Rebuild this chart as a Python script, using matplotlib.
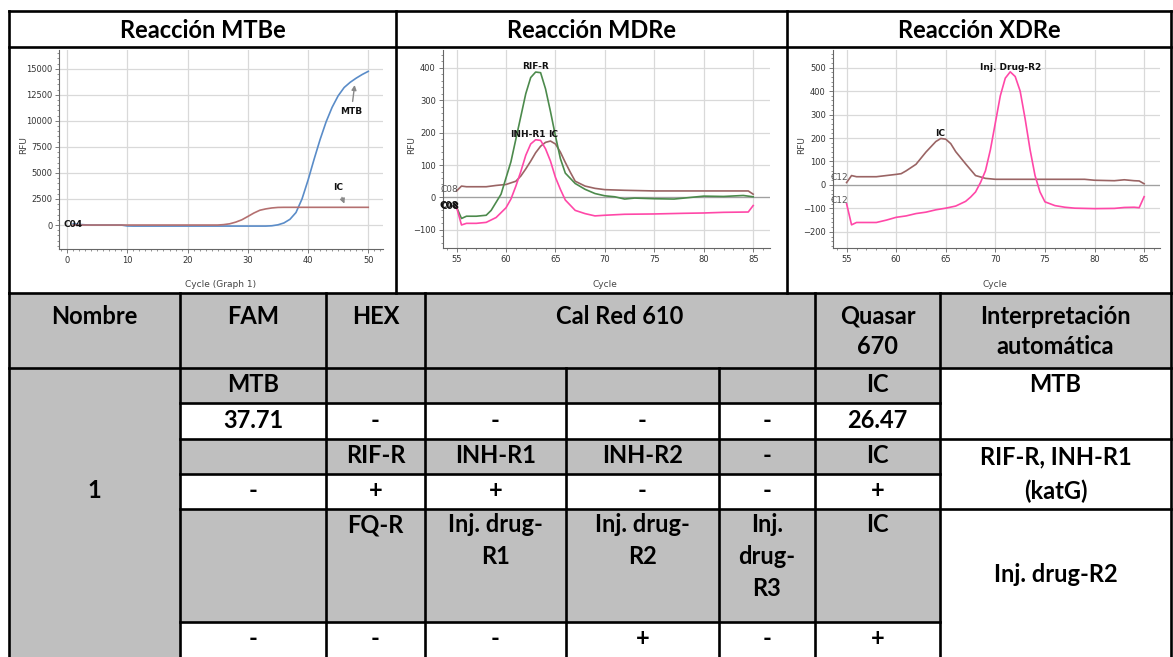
import numpy as np
import matplotlib
matplotlib.use("Agg")
import matplotlib.pyplot as plt
from matplotlib.ticker import MultipleLocator
from matplotlib.patches import Rectangle

plt.rcParams['font.family'] = ['Lato', 'DejaVu Sans']

# ---------------- data ----------------
titles = ['Reacción MTBe', 'Reacción MDRe', 'Reacción XDRe']
header = ['Nombre', 'FAM', 'HEX', 'Cal Red 610', 'Quasar\n670', 'Interpretación\nautomática']
sample_name = '1'
row_mtb_targets = ['MTB', '', '', '', '', 'IC']
row_mtb_ct = ['37.71', '-', '-', '-', '-', '26.47']
row_mdr_targets = ['', 'RIF-R', 'INH-R1', 'INH-R2', '-', 'IC']
row_mdr_result = ['-', '+', '+', '-', '-', '+']
row_xdr_targets = ['', 'FQ-R', 'Inj. drug-\nR1', 'Inj. drug-\nR2', 'Inj.\ndrug-\nR3', 'IC']
row_xdr_result = ['-', '-', '-', '+', '-', '+']
interpretations = ['MTB', 'RIF-R, INH-R1\n(katG)', 'Inj. drug-R2']

# amplification (MTBe)
cycles = np.arange(1, 51)
mtb_rfu = [120, 60, 20, 0, 0, 0, 0, 0, 0, -90,
           -100, -100, -100, -100, -100, -100, -100, -100, -100, -100,
           -100, -100, -100, -100, -100, -100, -100, -100, -100, -100,
           -100, -100, -100, -70, 20, 200, 550, 1200, 2500, 4300,
           6300, 8200, 9900, 11300, 12400, 13200, 13700, 14100, 14450, 14750]
ic_mtb_rfu = [0] * 25 + [40, 120, 280, 500, 820, 1150, 1420, 1550, 1640, 1690] + [1700] * 15

# melt (MDRe)
rif_t = [55, 55.5, 56, 57, 58, 58.5, 59, 59.5, 60, 60.5, 61, 61.5, 62, 62.5, 63, 63.5,
         64, 64.5, 65, 65.5, 66, 67, 68, 69, 70, 71, 72, 73, 75, 77, 80, 82, 84, 85]
rif_rfu = [-30, -65, -58, -58, -55, -40, -15, 10, 60, 110, 180, 250, 320, 370, 387, 385,
           335, 265, 190, 120, 75, 43, 25, 12, 5, 2, -5, -2, -4, -5, 4, 3, 6, 2]
inh_t = [55, 55.5, 56, 57, 58, 59, 60, 60.5, 61, 61.5, 62, 62.5, 63, 63.5, 64, 64.5,
         65, 65.5, 66, 67, 68, 69, 70, 72, 75, 78, 80, 82, 84.5, 85]
inh_rfu = [-30, -85, -80, -80, -77, -62, -32, -5, 35, 80, 130, 165, 178, 176, 150, 112,
           62, 25, -8, -40, -50, -57, -55, -52, -51, -49, -48, -46, -45, -25]
icm_t = [55, 55.5, 56, 58, 59, 60, 61, 61.5, 62, 62.5, 63, 63.5, 64, 64.5, 65, 65.5,
         66, 66.5, 67, 68, 69, 70, 72, 75, 80, 84.5, 85]
icm_rfu = [20, 35, 33, 33, 37, 40, 50, 66, 88, 112, 138, 158, 170, 174, 165, 140,
           108, 78, 50, 35, 28, 24, 22, 20, 20, 20, 10]

# melt (XDRe)
inj_t = [55, 55.5, 56, 58, 59, 60, 61, 62, 63, 64, 65, 66, 67, 67.5, 68, 68.5, 69, 69.5,
         70, 70.5, 71, 71.5, 72, 72.5, 73, 73.5, 74, 74.5, 75, 76, 77, 78, 80, 82, 83, 84, 84.5, 85]
inj_rfu = [-80, -170, -160, -160, -150, -138, -132, -122, -116, -106, -99, -90, -70, -52, -30, 10, 60, 150,
           265, 380, 455, 482, 462, 400, 282, 150, 40, -30, -72, -88, -95, -99, -101, -100, -96, -95, -97, -50]
icx_t = [55, 55.5, 56, 58, 59, 60, 60.5, 61, 62, 63, 64, 64.5, 65, 65.5, 66, 67, 68, 69, 70,
         75, 79, 80, 82, 83, 84, 84.5, 85]
icx_rfu = [10, 40, 35, 35, 40, 45, 48, 60, 88, 140, 185, 198, 195, 176, 142, 90, 40, 28, 24,
           24, 24, 20, 18, 22, 18, 17, 5]

# ---------------- layout (pixels) ----------------
W, H = 1173, 657
fig = plt.figure(figsize=(W / 100, H / 100), dpi=100)
tab = fig.add_axes([0, 0, 1, 1], zorder=0)
tab.set_xlim(0, W)
tab.set_ylim(H, 0)
tab.axis('off')

GREY = '#bfbfbf'
LW = 1.9
L, R = 9, 1171
top_v = [L, 396, 787, R]
cols = [L, 180, 326, 425, 566, 719, 815, 940, R]
TFS = 17


def txt(x, y, s, **kw):
    tab.text(x, y, s, ha='center', va='center', fontsize=TFS, fontweight='bold', color='black', **kw)


def lines_at(x, y0, s, step):
    for i, part in enumerate(s.split('\n')):
        txt(x, y0 + i * step, part)


# grey fills
tab.add_patch(Rectangle((L, 293), R - L, 368 - 293, color=GREY, lw=0))
tab.add_patch(Rectangle((L, 368), 180 - L, H - 368, color=GREY, lw=0))
for r0, r1 in [(368, 403), (439, 474), (509, 622)]:
    tab.add_patch(Rectangle((180, r0), 940 - 180, r1 - r0, color=GREY, lw=0))

# borders
hk = dict(color='black', lw=LW, solid_capstyle='projecting')
tab.plot([L, R], [11, 11], **hk)
tab.plot([L, R], [47, 47], **hk)
tab.plot([L, R], [293, 293], **hk)
tab.plot([L, R], [368, 368], **hk)
for y in [403, 474, 622]:
    tab.plot([180, 940], [y, y], **hk)
for y in [439, 509]:
    tab.plot([180, R], [y, y], **hk)
for x in top_v:
    tab.plot([x, x], [11, 293], **hk)
for x in [L, 180, 326, 425, 815, 940, R]:
    tab.plot([x, x], [293, H + 5], **hk)
for x in [566, 719]:
    tab.plot([x, x], [368, H + 5], **hk)

# titles
for i, t in enumerate(titles):
    txt((top_v[i] + top_v[i + 1]) / 2, 30, t)

# header
hx = [(cols[0] + cols[1]) / 2, (cols[1] + cols[2]) / 2, (cols[2] + cols[3]) / 2,
      (cols[3] + cols[6]) / 2, (cols[6] + cols[7]) / 2, (cols[7] + cols[8]) / 2]
for x, s in zip(hx, header):
    lines_at(x, 316, s, 31)

# data rows
cx = [(cols[i] + cols[i + 1]) / 2 for i in range(1, 7)]
for vals, (r0, r1) in zip([row_mtb_targets, row_mtb_ct, row_mdr_targets, row_mdr_result, row_xdr_result],
                          [(368, 403), (403, 439), (439, 474), (474, 509), (622, 657)]):
    for x, s in zip(cx, vals):
        if s:
            txt(x, (r0 + r1) / 2 - 1, s)
for x, s in zip(cx, row_xdr_targets):
    if s:
        lines_at(x, 525, s, 32)

ix = (cols[7] + cols[8]) / 2
lines_at(ix, 384, interpretations[0], 32)
lines_at(ix, 457, interpretations[1], 34)
lines_at(ix, 575, interpretations[2], 32)
txt((cols[0] + cols[1]) / 2, 491, sample_name)

# ---------------- charts ----------------
NARROW = ['Liberation Sans Narrow', 'DejaVu Sans']


def px(l, t, r, b):
    return [l / W, 1 - b / H, (r - l) / W, (b - t) / H]


def style(ax, xlim, ylim, xmaj, xmin, ymaj, ymin, xlabel, rfu_x, xl_y):
    ax.set_xlim(*xlim)
    ax.set_ylim(*ylim)
    for s in ['top', 'right']:
        ax.spines[s].set_visible(False)
    for s in ['left', 'bottom']:
        ax.spines[s].set_color('#666666')
        ax.spines[s].set_linewidth(0.8)
    ax.xaxis.set_major_locator(MultipleLocator(xmaj))
    ax.xaxis.set_minor_locator(MultipleLocator(xmin))
    ax.yaxis.set_major_locator(MultipleLocator(ymaj))
    ax.yaxis.set_minor_locator(MultipleLocator(ymin))
    ax.grid(which='major', color='#d9d9d9', lw=0.9)
    ax.set_axisbelow(True)
    ax.tick_params(which='major', length=3, width=0.6, colors='#666666', labelsize=6, pad=2,
                   labelcolor='#333333')
    ax.tick_params(which='minor', length=1.5, width=0.5, colors='#666666')
    for lab in ax.get_xticklabels() + ax.get_yticklabels():
        lab.set_family(NARROW)
    ax.set_ylabel('RFU', fontsize=6.5, color='#444444', family=NARROW)
    ax.yaxis.set_label_coords(rfu_x, 0.52)
    ax.set_xlabel(xlabel, fontsize=6.5, color='#444444', family=NARROW)
    ax.xaxis.set_label_coords(0.497, xl_y)


lab_kw = dict(fontsize=6.5, fontweight='bold', family=NARROW, color='#111111')

ax1 = fig.add_axes(px(59.3, 50, 383.3, 249), zorder=2)
ax1.plot(cycles, mtb_rfu, color='#5a8cc8', lw=1.2)
ax1.plot(cycles, ic_mtb_rfu, color='#b47070', lw=1.2)
ax1.annotate('MTB', xy=(47.8, 13700), xytext=(47.2, 10900), ha='center', va='center',
             arrowprops=dict(arrowstyle='-|>', color='#888888', lw=1, mutation_scale=7), **lab_kw)
ax1.annotate('IC', xy=(46.2, 1800), xytext=(45, 3600), ha='center', va='center',
             arrowprops=dict(arrowstyle='-|>', color='#888888', lw=1, mutation_scale=7), **lab_kw)
ax1.text(-0.6, 20, 'C04', ha='left', va='center', **lab_kw)
style(ax1, (-1.3, 52.5), (-2300, 16800), 10, 1, 2500, 500, 'Cycle (Graph 1)', -0.097, -0.155)

ax2 = fig.add_axes(px(442.7, 50, 770, 248.3), zorder=2)
ax2.axhline(0, color='#a0a0a0', lw=0.9, zorder=1)
ax2.plot(icm_t, icm_rfu, color='#9a6464', lw=1.2)
ax2.plot(rif_t, rif_rfu, color='#4c8a4c', lw=1.2)
ax2.plot(inh_t, inh_rfu, color='#ff48a8', lw=1.2)
ax2.text(63.0, 403, 'RIF-R', ha='center', va='center', **lab_kw)
ax2.text(64.0, 194, 'INH-R1', ha='right', va='center', **lab_kw)
ax2.text(64.3, 194, 'IC', ha='left', va='center', **lab_kw)
ax2.text(55.2, 26, 'C08', ha='right', va='center', fontsize=6.5, family=NARROW, color='#555555')
ax2.text(55.2, -24, 'C08', ha='right', va='center', **lab_kw)
ax2.text(55.25, -27, 'C08', ha='right', va='center', **lab_kw)
style(ax2, (53.6, 86.7), (-157, 455), 5, 1, 100, 20, 'Cycle', -0.082, -0.16)

ax3 = fig.add_axes(px(832.7, 50, 1160, 248.3), zorder=2)
ax3.axhline(0, color='#a0a0a0', lw=0.9, zorder=1)
ax3.plot(icx_t, icx_rfu, color='#9a6464', lw=1.2)
ax3.plot(inj_t, inj_rfu, color='#ff48a8', lw=1.2)
ax3.text(64.4, 220, 'IC', ha='center', va='center', **lab_kw)
ax3.text(71.5, 500, 'Inj. Drug-R2', ha='center', va='center', **lab_kw)
ax3.text(55.2, 31, 'C12', ha='right', va='center', fontsize=6.5, family=NARROW, color='#555555')
ax3.text(55.2, -68, 'C12', ha='right', va='center', fontsize=6.5, family=NARROW, color='#555555')
style(ax3, (53.6, 86.6), (-270, 575), 5, 1, 100, 20, 'Cycle', -0.08, -0.16)

fig.savefig('out.png', dpi=100, facecolor='white')
